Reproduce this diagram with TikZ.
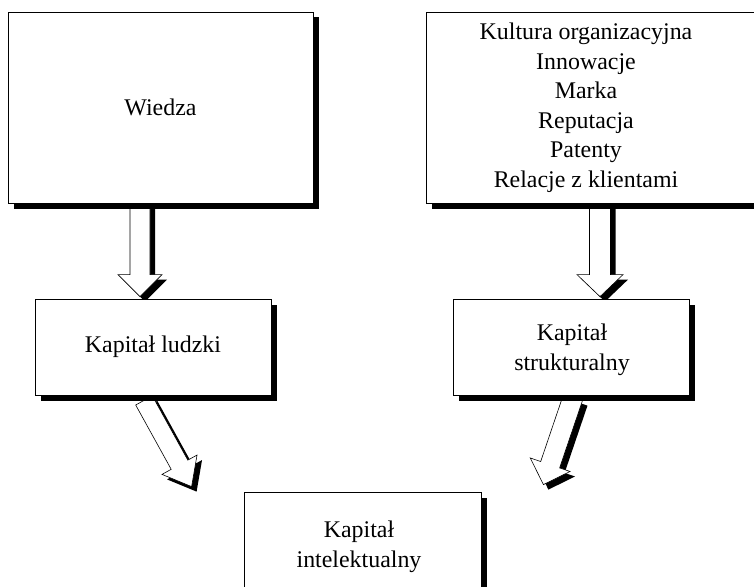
\documentclass[tikz,border=0pt]{standalone}
\usepackage{fontspec}
\setmainfont{Liberation Serif}
\usetikzlibrary{calc,shadows}
\pgfdeclarelayer{background}
\pgfdeclarelayer{canvasbg}
\pgfsetlayers{canvasbg,background,main}
\newcommand\bapts[6]{%
  \coordinate (#1c) at ($(#3)!#6!(#2)$);
  \coordinate (#1p1) at ($(#2)!#4!90:(#3)$);
  \coordinate (#1p2) at ($(#1c)!#4!90:(#3)$);
  \coordinate (#1p3) at ($(#1c)!#5!90:(#3)$);
  \coordinate (#1p4) at (#3);
  \coordinate (#1p5) at ($(#1c)!#5!-90:(#3)$);
  \coordinate (#1p6) at ($(#1c)!#4!-90:(#3)$);
  \coordinate (#1p7) at ($(#2)!#4!-90:(#3)$);
}
\newcommand\blockarrow[5]{%
  \coordinate (bsA) at ($(#1)+(5,5)$);
  \coordinate (bsB) at ($(#2)+(5,5)$);
  \bapts{bs}{bsA}{bsB}{#3}{#4}{#5}
  \fill[black] (bsp1)--(bsp2)--(bsp3)--(bsp4)--(bsp5)--(bsp6)--(bsp7)--cycle;
  \bapts{bm}{#1}{#2}{#3}{#4}{#5}
  \filldraw[fill=white,draw=black,line width=0.6pt,line join=miter] (bmp1)--(bmp2)--(bmp3)--(bmp4)--(bmp5)--(bmp6)--(bmp7)--cycle;
}
\begin{document}
\begin{tikzpicture}[x=1pt,y=-1pt,
  txt/.style={font=\fontsize{23.9}{29.5}\selectfont, align=center, inner sep=0pt},
  box/.style={draw, fill=white, line width=0.8pt, inner sep=0pt,
    drop shadow={shadow xshift=5.5pt, shadow yshift=-5.5pt, fill=black, opacity=1},
    font=\fontsize{23.9}{29.5}\selectfont, align=center}]
\clip (0,0) rectangle (754,586);
\begin{pgfonlayer}{canvasbg}
\fill[white] (0,0) rectangle (754,586);
\end{pgfonlayer}
% boxes
\node[box, minimum width=305pt, minimum height=191pt] (wiedza) at (160.5,107.5) {Wiedza};
\node[box, minimum width=334pt, minimum height=191pt] (kult) at (593,107.5) {};
\node[txt] (kulttext) at (586,108) {Kultura organizacyjna\\Innowacje\\Marka\\Reputacja\\Patenty\\Relacje z klientami};
\node[box, minimum width=236pt, minimum height=96pt] (ludzki) at (153,347) {Kapitał ludzki};
\node[box, minimum width=236pt, minimum height=96pt] (strukt) at (571,347) {};
\node[txt] (strukttext) at (572,350) {Kapitał\\strukturalny};
\node[box, minimum width=237pt, minimum height=98pt] (intel) at (362.5,541) {};
\node[txt] (inteltext) at (359,547) {Kapitał\\intelektualny};
% arrows
\coordinate (a1s) at ($(wiedza.south)+(-20.5,0)$);
\coordinate (a1e) at ($(ludzki.north)+(-13,-2)$);
\coordinate (a2s) at ($(kult.south)+(7,0)$);
\coordinate (a2e) at ($(strukt.north)+(29,-2)$);
\coordinate (a3s) at ($(ludzki.south)+(-9,5)$);
\coordinate (a3e) at ($(intel.north west)+(-52,-5)$);
\coordinate (a4s) at ($(strukt.south)+(2,2)$);
\coordinate (a4e) at ($(intel.north east)+(62,-7)$);
\begin{pgfonlayer}{background}
\blockarrow{a1s}{a1e}{10pt}{22pt}{22pt}
\blockarrow{a2s}{a2e}{10.5pt}{23pt}{22pt}
\blockarrow{a3s}{a3e}{9.5pt}{20pt}{25pt}
\blockarrow{a4s}{a4e}{10pt}{21pt}{21pt}
\end{pgfonlayer}
\end{tikzpicture}
\end{document}
